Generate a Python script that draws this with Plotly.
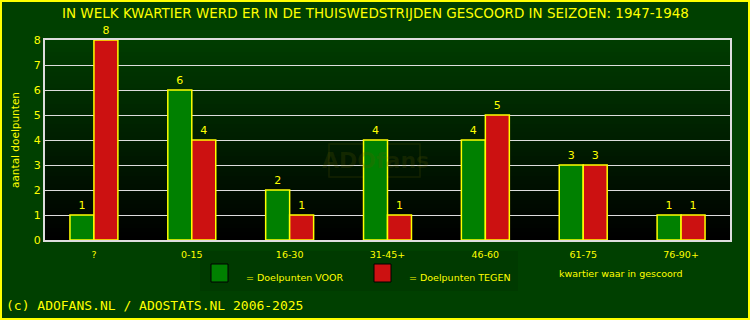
import plotly.graph_objects as go

categories = ["?", "0-15", "16-30", "31-45+", "46-60", "61-75", "76-90+"]
voor = [1, 6, 2, 4, 4, 3, 1]
tegen = [8, 4, 1, 1, 5, 3, 1]

W, H = 750, 320
ML, MR, MT, MB = 45, 20, 40, 80
PW, PH = W - ML - MR, H - MT - MB

YEL = "#ffff00"
BG = "#004000"
FONT = "DejaVu Sans"

fig = go.Figure()
fig.add_bar(x=categories, y=voor, name="Doelpunten VOOR",
            marker=dict(color="#008000", line=dict(color=YEL, width=1.5)),
            text=voor, textposition="outside",
            textfont=dict(color=YEL, size=11, family=FONT), cliponaxis=False)
fig.add_bar(x=categories, y=tegen, name="Doelpunten TEGEN",
            marker=dict(color="#cc1111", line=dict(color=YEL, width=1.5)),
            text=tegen, textposition="outside",
            textfont=dict(color=YEL, size=11, family=FONT), cliponaxis=False)

def px(x):
    return (x - ML) / PW

def py(y):
    return 1 - (y - MT) / PH

shapes = []
# gradient plot background
N = 50
for i in range(N):
    f = i / (N - 1)  # 0 at bottom, 1 at top
    g = int(round(0x3c * f))
    shapes.append(dict(type="rect", xref="x domain", yref="y domain",
                       x0=0, x1=1, y0=i / N, y1=(i + 1) / N,
                       fillcolor=f"rgb(0,{g},0)", line=dict(width=0), layer="below"))
# legend background
shapes.append(dict(type="rect", xref="paper", yref="paper",
                   x0=px(200), x1=px(518), y0=py(291), y1=py(251),
                   fillcolor="#003a00", line=dict(width=0), layer="below"))
# legend squares
shapes.append(dict(type="rect", xref="paper", yref="paper",
                   x0=px(211), x1=px(228), y0=py(282), y1=py(264),
                   fillcolor="#008000", line=dict(color="black", width=1)))
shapes.append(dict(type="rect", xref="paper", yref="paper",
                   x0=px(374), x1=px(391), y0=py(282), y1=py(264),
                   fillcolor="#cc1111", line=dict(color="black", width=1)))
# watermark box
shapes.append(dict(type="rect", xref="paper", yref="paper",
                   x0=px(329), x1=px(420), y0=py(177), y1=py(144),
                   fillcolor="rgba(0,0,0,0)", line=dict(color="rgba(90,90,0,0.22)", width=1.5),
                   layer="below"))
# outer yellow border
shapes.append(dict(type="rect", xref="paper", yref="paper",
                   x0=px(1), x1=px(W - 1), y0=py(H - 1), y1=py(1),
                   fillcolor="rgba(0,0,0,0)", line=dict(color=YEL, width=2)))

annotations = [
    dict(text="IN WELK KWARTIER WERD ER IN DE THUISWEDSTRIJDEN GESCOORD IN SEIZOEN: 1947-1948",
         xref="paper", yref="paper", x=px(375), y=py(13), xanchor="center", yanchor="middle",
         showarrow=False, font=dict(color=YEL, size=13.5, family=FONT)),
    dict(text="= Doelpunten VOOR", xref="paper", yref="paper", x=px(244), y=py(277),
         xanchor="left", yanchor="middle", showarrow=False,
         font=dict(color=YEL, size=9.5, family=FONT)),
    dict(text="= Doelpunten TEGEN", xref="paper", yref="paper", x=px(407), y=py(277),
         xanchor="left", yanchor="middle", showarrow=False,
         font=dict(color=YEL, size=9.5, family=FONT)),
    dict(text="kwartier waar in gescoord", xref="paper", yref="paper", x=px(557), y=py(273),
         xanchor="left", yanchor="middle", showarrow=False,
         font=dict(color=YEL, size=9.5, family=FONT)),
    dict(text="(c) ADOFANS.NL / ADOSTATS.NL 2006-2025", xref="paper", yref="paper",
         x=px(4), y=py(305), xanchor="left", yanchor="middle", showarrow=False,
         font=dict(color=YEL, size=13, family="DejaVu Sans Mono")),
    dict(text="ADOfans", xref="paper", yref="paper", x=px(375), y=py(160),
         xanchor="center", yanchor="middle", showarrow=False,
         font=dict(color="rgba(90,90,0,0.22)", size=22, family="DejaVu Sans", weight="bold")),
]

fig.update_layout(
    width=W, height=H,
    margin=dict(l=ML, r=MR, t=MT, b=MB),
    paper_bgcolor=BG, plot_bgcolor="black",
    barmode="group", bargap=0.51, bargroupgap=0,
    showlegend=False,
    shapes=shapes, annotations=annotations,
    font=dict(family=FONT, color=YEL, size=11),
    xaxis=dict(showgrid=False, showline=True, linecolor="#dddddd", linewidth=2,
               mirror=True, tickfont=dict(color=YEL, size=9.5, family=FONT),
               ticks="", ticklabelstandoff=5),
    yaxis=dict(range=[0, 8], dtick=1, showgrid=True, gridcolor="#dddddd", gridwidth=1,
               showline=True, linecolor="#dddddd", linewidth=2, mirror=True,
               zeroline=False, ticks="", tickfont=dict(color=YEL, size=11, family=FONT),
               title=dict(text="aantal doelpunten", font=dict(color=YEL, size=10.5, family=FONT),
                          standoff=12)),
)

fig.write_html("out.html")
